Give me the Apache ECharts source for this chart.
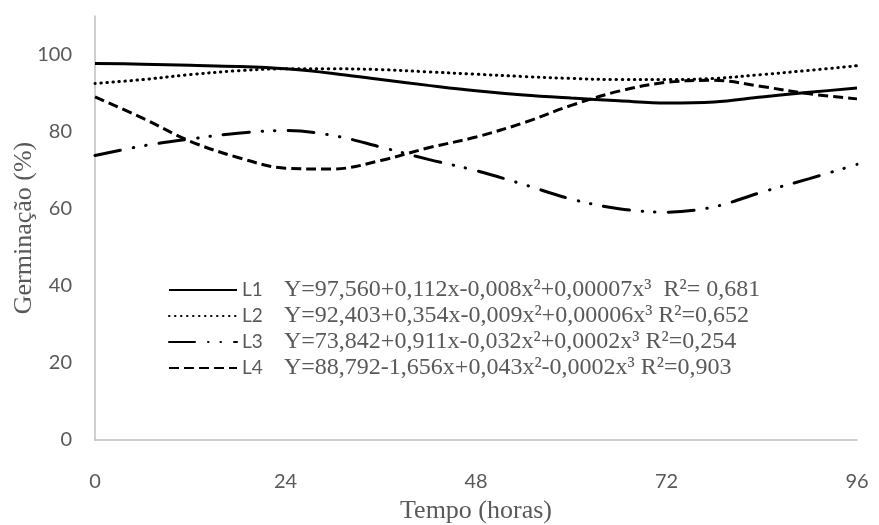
<!DOCTYPE html>
<html>
<head>
	<meta charset="utf-8">
	<title></title>
	<script src="https://cdn.jsdelivr.net/npm/echarts@6/dist/echarts.min.js"></script>
	<style type="text/css">
	html, body { margin: 0; padding: 0; background: #fff; }
	#chart { width: 879px; height: 525px; }
	</style>
</head>
<body>
	<div id="chart"></div>
	<script>
	// horas
	var hours = [0, 6, 12, 18, 24, 30, 36, 42, 48, 54, 60, 66, 72, 78, 84, 90, 96];
	var l1 = [97.7, 97.5, 97.2, 96.9, 96.3, 95.1, 93.5, 92.0, 90.6, 89.5, 88.7, 88.0, 87.4, 87.7, 89.0, 90.2, 91.3];
	var l2 = [92.5, 93.5, 94.8, 95.8, 96.3, 96.3, 96.1, 95.5, 94.9, 94.3, 93.8, 93.5, 93.5, 93.8, 94.8, 95.9, 97.1];
	var l3 = [73.8, 76.3, 78.1, 79.6, 80.3, 79.0, 76.0, 72.8, 69.9, 66.3, 62.5, 60.0, 59.1, 60.5, 64.3, 67.8, 71.5];
	var l4 = [89.0, 83.5, 77.5, 73.3, 70.5, 70.3, 72.5, 75.8, 78.6, 82.3, 86.8, 90.5, 92.8, 93.3, 91.7, 89.8, 88.5];
	var names = ['L1', 'L2', 'L3', 'L4'];
	var equations = {
		L1: 'Y=97,560+0,112x-0,008x²+0,00007x³  R²= 0,681',
		L2: 'Y=92,403+0,354x-0,009x²+0,00006x³ R²=0,652',
		L3: 'Y=73,842+0,911x-0,032x²+0,0002x³ R²=0,254',
		L4: 'Y=88,792-1,656x+0,043x²-0,0002x³ R²=0,903'
	};
	var xTicks = [0, 24, 48, 72, 96];

	function pairs(ys) {
		return hours.map(function(h, i) { return [h, ys[i]]; });
	}

	var sans = 'Lato, "Open Sans", sans-serif';
	var serif = '"Liberation Serif", "DejaVu Serif", serif';
	var gray = '#595959';

	function line(name, ys, type, cap) {
		return {
			name: name,
			type: 'line',
			smooth: 0.35,
			symbol: 'none',
			data: pairs(ys),
			lineStyle: { color: '#000', width: 3, type: type, cap: cap || 'butt' },
			itemStyle: { color: '#000' }
		};
	}

	var chart = echarts.init(document.getElementById('chart'));
	chart.setOption({
		animation: false,
		grid: { left: 95, right: 22, top: 16, bottom: 85, outerBoundsMode: 'none', containLabel: false },
		legend: {
			data: names,
			orient: 'vertical',
			left: 163,
			top: 273,
			itemWidth: 68,
			itemHeight: 14,
			itemGap: 2,
			itemStyle: { color: 'rgba(0,0,0,0)', borderWidth: 0 },
			formatter: function(n) {
				return '{n|' + n + '}{e|' + equations[n] + '}';
			},
			textStyle: {
				rich: {
					n: { fontFamily: sans, fontSize: 19, color: gray, width: 42, lineHeight: 20 },
					e: { fontFamily: serif, fontSize: 24, color: gray, lineHeight: 20 }
				}
			}
		},
		xAxis: {
			type: 'value',
			min: 0,
			max: 96,
			interval: 24,
			name: 'Tempo (horas)',
			nameLocation: 'middle',
			nameGap: 58,
			nameTextStyle: { fontFamily: serif, fontSize: 26, color: gray },
			axisLine: { lineStyle: { color: '#bfbfbf', width: 1.5 } },
			axisTick: { show: false },
			splitLine: { show: false },
			axisLabel: {
				fontFamily: sans, fontSize: 20, color: gray, margin: 32,
				formatter: function(v) { return xTicks.indexOf(v) >= 0 ? v : ''; }
			}
		},
		yAxis: {
			type: 'value',
			min: 0,
			max: 110,
			interval: 20,
			name: 'Germinação (%)',
			nameLocation: 'middle',
			nameGap: 58,
			nameMoveOverlap: false,
			nameTextStyle: { fontFamily: serif, fontSize: 26, color: gray },
			axisLine: { show: true, lineStyle: { color: '#bfbfbf', width: 1.5 } },
			axisTick: { show: false },
			splitLine: { show: false },
			axisLabel: { fontFamily: sans, fontSize: 20, color: gray, margin: 23, showMaxLabel: false }
		},
		series: [
			line('L1', l1, 'solid'),
			line('L2', l2, [0.5, 5.5], 'round'),
			line('L3', l3, [26, 13, 0.5, 12, 0.5, 13], 'round'),
			line('L4', l4, [10, 5])
		]
	});
	</script>
</body>
</html>
